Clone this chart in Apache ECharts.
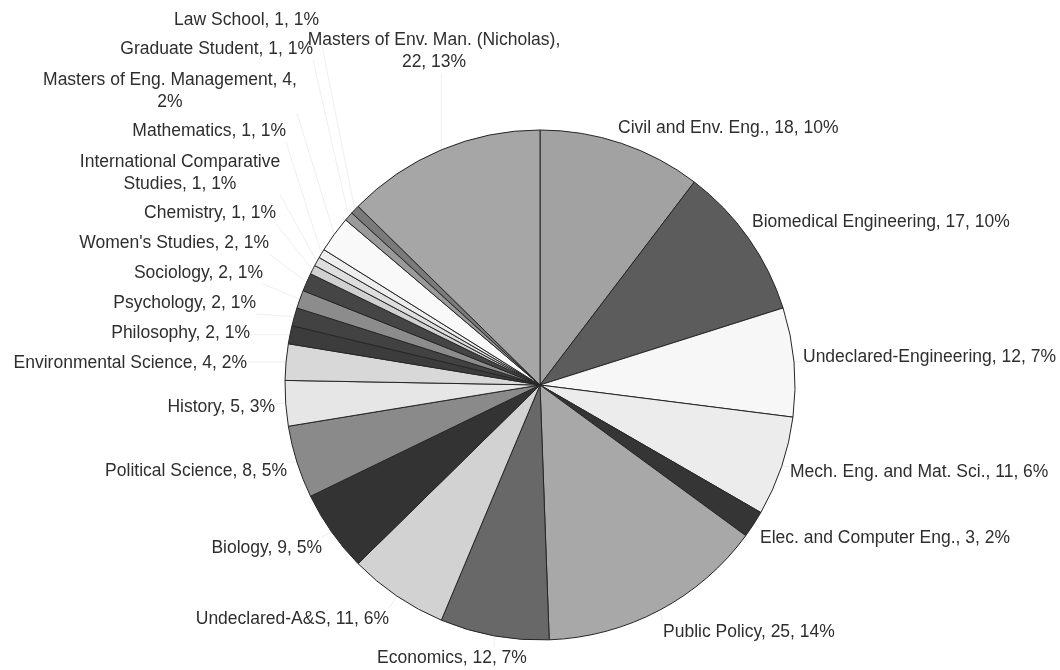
<!DOCTYPE html>
<html>
<head>
<meta charset="utf-8">
<script src="https://cdn.jsdelivr.net/npm/echarts@6/dist/echarts.min.js"></script>
<style>
  html, body { margin: 0; padding: 0; background: #fff; }
  #chart { width: 1060px; height: 670px; }
</style>
</head>
<body>
<div id="chart"></div>
<script>
// Students by major / program, clockwise from 12 o'clock
const majors = [
  'Civil and Env. Eng.',
  'Biomedical Engineering',
  'Undeclared-Engineering',
  'Mech. Eng. and Mat. Sci.',
  'Elec. and Computer Eng.',
  'Public Policy',
  'Economics',
  'Undeclared-A&S',
  'Biology',
  'Political Science',
  'History',
  'Environmental Science',
  'Philosophy',
  'Psychology',
  'Sociology',
  "Women's Studies",
  'Chemistry',
  'International Comparative Studies',
  'Mathematics',
  'Masters of Eng. Management',
  'Graduate Student',
  'Law School',
  'Masters of Env. Man. (Nicholas)'
];
const counts = [18, 17, 12, 11, 3, 25, 12, 11, 9, 8, 5, 4, 2, 2, 2, 2, 1, 1, 1, 4, 1, 1, 22];

// grayscale fills, one per slice
const fills = [
  '#a2a2a2', '#5c5c5c', '#f7f7f7', '#ececec', '#353535', '#a8a8a8',
  '#686868', '#d2d2d2', '#333333', '#8a8a8a', '#e6e6e6', '#d8d8d8',
  '#3c3c3c', '#424242', '#8c8c8c', '#454545', '#d0d0d0', '#dedede',
  '#eeeeee', '#f9f9f9', '#9a9a9a', '#7a7a7a', '#a6a6a6'
];

// pie geometry
const CX = 540, CY = 385, R = 255;

// where each data label sits: [x, y, horizontal alignment]
const labelSpots = [
  [618, 128, 'left'],
  [752, 222, 'left'],
  [803, 357, 'left'],
  [790, 472, 'left'],
  [760, 538, 'left'],
  [663, 632, 'left'],
  [452, 658, 'center'],
  [389, 619, 'right'],
  [322, 548, 'right'],
  [287, 471, 'right'],
  [275, 407, 'right'],
  [247, 363, 'right'],
  [250, 333, 'right'],
  [256, 303, 'right'],
  [263, 273, 'right'],
  [269, 243, 'right'],
  [276, 213, 'right'],
  [180, 173, 'center'],
  [286, 131, 'right'],
  [170, 91, 'center'],
  [313, 49, 'right'],
  [319, 20, 'right'],
  [434, 51, 'center']
];

const total = counts.reduce((a, b) => a + b, 0);

function labelText(name, value) {
  const pct = Math.round(value / total * 100);
  if (name === 'Masters of Env. Man. (Nicholas)') return name + ',\n' + value + ', ' + pct + '%';
  if (name === 'Masters of Eng. Management') return name + ', ' + value + ',\n' + pct + '%';
  if (name === 'International Comparative Studies') return 'International Comparative\nStudies, ' + value + ', ' + pct + '%';
  return name + ', ' + value + ', ' + pct + '%';
}

// rim point at the middle of slice i
function rimPoint(i) {
  let before = 0;
  for (let k = 0; k < i; k++) before += counts[k];
  const a = (before + counts[i] / 2) / total * Math.PI * 2;
  return [CX + R * Math.sin(a), CY - R * Math.cos(a)];
}

const chart = echarts.init(document.getElementById('chart'), null, { renderer: 'canvas' });

chart.setOption({
  backgroundColor: '#ffffff',
  animation: false,
  series: [{
    type: 'pie',
    left: 0, top: 0, right: 0, bottom: 0,
    center: [CX, CY],
    radius: R,
    startAngle: 90,
    clockwise: true,
    avoidLabelOverlap: false,
    minShowLabelAngle: 0,
    data: majors.map((m, i) => ({
      name: m,
      value: counts[i],
      itemStyle: { color: fills[i] }
    })),
    itemStyle: { borderColor: '#262626', borderWidth: 1 },
    emphasis: { disabled: true },
    label: {
      show: true,
      position: 'outside',
      formatter: p => labelText(p.name, p.value),
      fontFamily: '"Liberation Sans", Arial, sans-serif',
      fontSize: 17.5,
      lineHeight: 22,
      color: '#2e2e2e',
      align: 'center'
    },
    labelLine: {
      show: true,
      length: 4,
      length2: 0,
      lineStyle: { color: '#efefef', width: 1 }
    },
    labelLayout: params => {
      const i = params.dataIndex;
      const [x, y, align] = labelSpots[i];
      const w = params.labelRect.width, h = params.labelRect.height;
      const x0 = align === 'left' ? x : align === 'right' ? x - w : x - w / 2;
      const y0 = y - h / 2;
      const s = rimPoint(i);
      const e = [
        Math.min(Math.max(s[0], x0), x0 + w),
        Math.min(Math.max(s[1], y0), y0 + h)
      ];
      return {
        x: x,
        y: y,
        align: align,
        verticalAlign: 'middle',
        labelLinePoints: [s, e]
      };
    }
  }]
});
</script>
</body>
</html>
